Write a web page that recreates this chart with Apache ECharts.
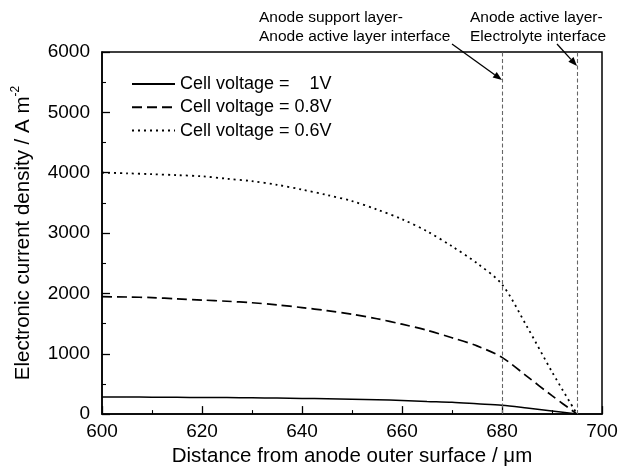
<!DOCTYPE html>
<html>
<head>
<meta charset="utf-8">
<script src="https://cdn.jsdelivr.net/npm/echarts@6/dist/echarts.min.js"></script>
<style>
html,body{margin:0;padding:0;background:#fff;}
#c{width:622px;height:472px;}
</style>
</head>
<body>
<div id="c"></div>
<script>
// ---- data ----
var distance = [600, 605, 610, 615, 620, 625, 630, 635, 640, 645, 650, 655, 660, 665, 670, 675, 680, 685, 690, 695];
var v1_0 = [285, 283, 280, 278, 275, 273, 270, 265, 260, 255, 248, 238, 225, 209, 195, 170, 145, 100, 52, 0];
var v0_8 = [1945, 1940, 1930, 1910, 1890, 1870, 1845, 1810, 1765, 1715, 1655, 1580, 1490, 1390, 1265, 1130, 940, 625, 305, 0];
var v0_6 = [4000, 3990, 3975, 3960, 3940, 3900, 3860, 3800, 3720, 3630, 3530, 3390, 3230, 3030, 2780, 2500, 2150, 1450, 700, 0];
var seriesNames = ['Cell voltage =    1V', 'Cell voltage = 0.8V', 'Cell voltage = 0.6V'];
var interfaces = [680, 695];
var annotations = [
  ['Anode support layer-', 'Anode active layer interface'],
  ['Anode active layer-', 'Electrolyte interface']
];

function pairs(ys){ return distance.map(function(x,i){ return [x, ys[i]]; }); }

var FONT = '"Liberation Sans", Arial, Helvetica, sans-serif';

function arrow(x0, y0, x1, y1){
  var dx = x1 - x0, dy = y1 - y0, L = Math.sqrt(dx*dx + dy*dy);
  var ux = dx / L, uy = dy / L, nx = -uy, ny = ux;
  var hl = 9, hw = 3.5;
  var bx = x1 - ux*hl, by = y1 - uy*hl;
  return [
    {type:'line', shape:{x1:x0, y1:y0, x2:bx, y2:by}, style:{stroke:'#000', lineWidth:1.3}, z:100},
    {type:'polygon', shape:{points:[[x1,y1],[bx+nx*hw, by+ny*hw],[bx-nx*hw, by-ny*hw]]}, style:{fill:'#000'}, z:100}
  ];
}

var graphics = [];
var annX = [259, 470];
annotations.forEach(function(a, k){
  graphics.push({type:'text', left: annX[k], top: 10, style:{text: a[0], font: '15.5px ' + FONT, fill:'#000'}, z:100});
  graphics.push({type:'text', left: annX[k], top: 29, style:{text: a[1], font: '15.5px ' + FONT, fill:'#000'}, z:100});
});
graphics = graphics.concat(arrow(452, 44, 502, 80)).concat(arrow(557, 44, 577, 66));

var chart = echarts.init(document.getElementById('c'), null, {renderer:'canvas'});
var axisCommon = {
  axisLine:{show:true, onZero:false, lineStyle:{color:'#000', width:1.5}},
  axisTick:{show:true, inside:true, length:8, lineStyle:{color:'#000', width:1.3}},
  minorTick:{show:true, splitNumber:2, length:4, lineStyle:{color:'#000', width:1.1}},
  splitLine:{show:false},
  minorSplitLine:{show:false}
};
function plain(v){ return String(v); }
chart.setOption({
  animation:false,
  backgroundColor:'#fff',
  grid:{left:102, right:20, top:52, bottom:57, show:true, borderColor:'#000', borderWidth:1.5, backgroundColor:'transparent'},
  legend:{
    orient:'vertical', left:126, top:69, itemWidth:43, itemHeight:14, itemGap:3.3,
    itemStyle:{opacity:0},
    textStyle:{fontFamily:FONT, fontSize:18, color:'#000', lineHeight:20},
    data: seriesNames
  },
  xAxis: Object.assign({
    type:'value', min:600, max:700, interval:20,
    name:'Distance from anode outer surface / \u03bcm', nameLocation:'middle', nameGap:31,
    nameTextStyle:{fontFamily:FONT, fontSize:20.5, color:'#000'},
    axisLabel:{fontFamily:FONT, fontSize:19, color:'#000', margin:8, formatter:plain}
  }, axisCommon),
  yAxis: Object.assign({
    type:'value', min:0, max:6000, interval:1000,
    name:'{m|Electronic current density / A m}{s|-2}', nameLocation:'middle', nameGap:66, nameRotate:90,
    nameTextStyle:{fontFamily:FONT, fontSize:20.5, color:'#000',
      rich:{m:{fontFamily:FONT, fontSize:20.5, color:'#000', lineHeight:26}, s:{fontFamily:FONT, fontSize:12, color:'#000', verticalAlign:'top', lineHeight:26}}},
    axisLabel:{fontFamily:FONT, fontSize:19, color:'#000', margin:12, formatter:plain}
  }, axisCommon),
  graphic: graphics,
  series:[
    {name:seriesNames[0], type:'line', data:pairs(v1_0), symbol:'none', smooth:0.3,
     lineStyle:{color:'#000', width:1.5, type:'solid'}, itemStyle:{color:'#000'},
     markLine:{silent:true, symbol:['none','none'], label:{show:false},
       lineStyle:{color:'#666', width:1.1, type:[4,2.5]},
       data: interfaces.map(function(v){ return {xAxis:v}; })}},
    {name:seriesNames[1], type:'line', data:pairs(v0_8), symbol:'none', smooth:0.3,
     lineStyle:{color:'#000', width:1.7, type:[10,5]}, itemStyle:{color:'#000'}},
    {name:seriesNames[2], type:'line', data:pairs(v0_6), symbol:'none', smooth:0.3,
     lineStyle:{color:'#000', width:1.8, type:[2,4]}, itemStyle:{color:'#000'}}
  ]
});
</script>
</body>
</html>
